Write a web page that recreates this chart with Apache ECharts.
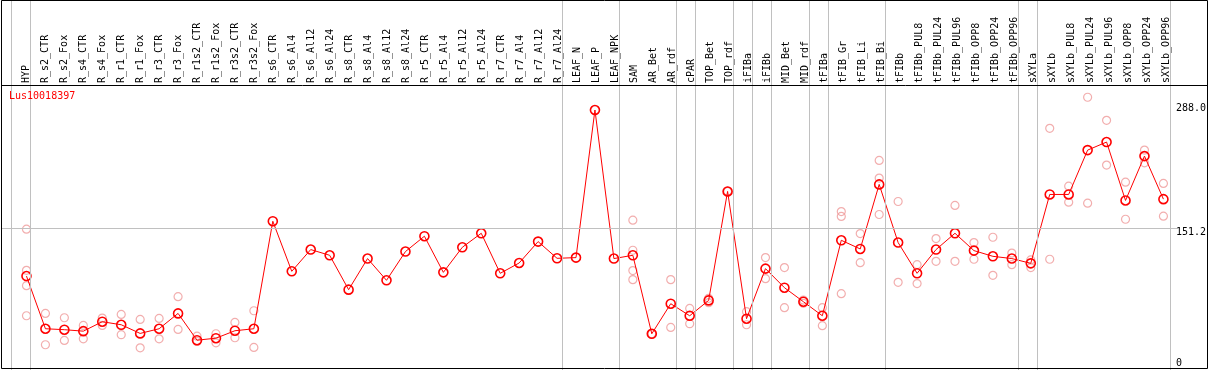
<!DOCTYPE html>
<html><head><meta charset="utf-8">
<script src="https://cdn.jsdelivr.net/npm/echarts@6/dist/echarts.min.js"></script>
<style>html,body{margin:0;padding:0;background:#fff}#c{width:1209px;height:370px}</style>
</head><body><div id="c"></div>
<script>
const geneName = 'Lus10018397';
const categories = ['HYP','R_s2_CTR','R_s2_Fox','R_s4_CTR','R_s4_Fox','R_r1_CTR','R_r1_Fox','R_r3_CTR','R_r3_Fox','R_r1s2_CTR','R_r1s2_Fox','R_r3s2_CTR','R_r3s2_Fox',
'R_s6_CTR','R_s6_Al4','R_s6_Al12','R_s6_Al24','R_s8_CTR','R_s8_Al4','R_s8_Al12','R_s8_Al24','R_r5_CTR','R_r5_Al4','R_r5_Al12','R_r5_Al24','R_r7_CTR','R_r7_Al4','R_r7_Al12','R_r7_Al24',
'LEAF_N','LEAF_P','LEAF_NPK',
'SAM','AR_Bet','AR_rdf','cPAR','TOP_Bet','TOP_rdf','iFIBa','iFIBb','MID_Bet','MID_rdf','tFIBa','tFIB_Gr','tFIB_Li','tFIB_Bi',
'tFIBb','tFIBb_PUL8','tFIBb_PUL24','tFIBb_PUL96','tFIBb_OPP8','tFIBb_OPP24','tFIBb_OPP96',
'sXYLa','sXYLb','sXYLb_PUL8','sXYLb_PUL24','sXYLb_PUL96','sXYLb_OPP8','sXYLb_OPP24','sXYLb_OPP96'];
const means = [96.3,35.5,34.4,32.7,43.6,40.1,30.1,35.5,53.2,22.3,24.6,33.2,35.5,
159.6,101.8,126.9,120.3,80.6,116.5,91.4,124.6,142.3,100.6,129.5,145.7,99.5,111.4,136.1,116.8,
117.6,288.0,116.5,
120.3,29.7,64.4,50.5,68.2,194.0,47.1,104.9,82.9,66.7,50.5,137.6,127.6,202.1,
135.0,99.5,126.9,145.7,125.7,119.1,116.5,
111.0,190.5,190.5,241.7,251.0,183.6,234.8,185.1];
const replicates = [
[150.4,102.9,85.2,50.5],[53.2,17.0],[48.2,22.0],[39.3,23.9],[47.8,39.3],[52.0,28.6],[46.3,13.5],[47.4,23.9],[72.5,34.7],[26.9,20.8],[29.7,19.3],[42.8,25.1],[56.3,13.9],
[],[],[],[],[],[],[],[],[],[],[],[],[],[],[],[],
[],[],[],
[160.8,126.1,102.6,92.2],[29.7,29.7],[92.2,37.0],[59.0,41.3],[70.6,65.6],[194.0,194.0],[55.2,40.1],[117.6,93.3],[106.1,59.8],[64.8,68.6],[59.8,39.0],[170.8,165.1,76.0],[145.4,111.8],[229.8,209.4,167.4],
[182.4,89.1],[109.5,87.6],[139.6,113.3],[177.8,113.3],[135.0,115.7],[141.1,97.2],[122.9,109.5],
[114.9,106.1],[266.8,115.7],[200.1,181.6],[302.7,180.4],[276.1,224.4],[204.7,161.9],[241.7,227.0],[203.2,165.4]];
const groupEnds = [-1,0,28,31,34,35,37,38,39,41,42,45,52,53,60];
const yTickValues = [0,151.2,288];
const yTickLabels = ['0','151.2','288.0'];
const medianLine = 151.2;

// ---- layout ----
const FONT = 'DejaVu Sans Mono';
const W = 1209, H = 370;
const BAND = 19, PLOT_LEFT = 17, N = categories.length, PLOT_W = BAND * N;
const HEADER_Y = 85;
const PLOT_TOP = 110, PLOT_BOTTOM = 359.5;
const yMin = 0, yMax = 288;
const pxPerUnit = (PLOT_BOTTOM - PLOT_TOP) / (yMax - yMin);
const idxAtPx = px => (px - PLOT_LEFT) / BAND - 0.5;
const valAtPy = py => (PLOT_BOTTOM - py) / pxPerUnit;
const SEP_OFFSET = 4 / BAND;

const repData = [];
replicates.forEach((arr, i) => arr.forEach(v => repData.push([i, v])));

const chart = echarts.init(document.getElementById('c'));
chart.setOption({
  animation: false,
  backgroundColor: '#fff',
  title: {text: geneName, left: 9, top: 91, padding: 0,
    textStyle: {fontFamily: FONT, fontSize: 10, fontWeight: 'normal', color: '#ff0000'}},
  grid: [
    {left: PLOT_LEFT, top: 0, width: PLOT_W, height: HEADER_Y},
    {left: PLOT_LEFT, top: PLOT_TOP, width: PLOT_W, height: PLOT_BOTTOM - PLOT_TOP},
    {left: 0, top: 0, width: W, height: H}
  ],
  xAxis: [
    {type: 'category', gridIndex: 0, data: categories, position: 'bottom',
      axisLine: {show: false}, axisTick: {show: false}, splitLine: {show: false},
      axisLabel: {inside: true, rotate: 90, margin: 2, interval: 0, fontFamily: FONT, fontSize: 10, color: '#000'}},
    {type: 'category', gridIndex: 1, data: categories, show: false},
    {type: 'value', gridIndex: 2, min: idxAtPx(0), max: idxAtPx(W), show: false}
  ],
  yAxis: [
    {type: 'value', gridIndex: 0, show: false},
    {type: 'value', gridIndex: 1, min: yMin, max: yMax, position: 'right',
      axisLine: {show: false}, axisTick: {show: false}, splitLine: {show: false},
      axisLabel: {customValues: yTickValues, margin: 3, showMinLabel: true, showMaxLabel: true,
        formatter: v => {
          const k = yTickValues.findIndex(t => Math.abs(t - v) < 1e-6);
          const s = k >= 0 ? yTickLabels[k] : String(v);
          return v >= yMax ? '{hi|' + s + '}' : '{lo|' + s + '}';
        },
        rich: {
          lo: {padding: [7, 0, 0, 0], fontFamily: FONT, fontSize: 10, color: '#000'},
          hi: {padding: [0, 0, 4, 0], fontFamily: FONT, fontSize: 10, color: '#000'}
        }}},
    {type: 'value', gridIndex: 2, min: valAtPy(H), max: valAtPy(0), show: false}
  ],
  series: [
    {type: 'line', xAxisIndex: 2, yAxisIndex: 2, data: [], silent: true, z: 1,
      markLine: {silent: true, symbol: ['none', 'none'], animation: false,
        label: {show: false},
        lineStyle: {color: '#c0c0c0', width: 1, type: 'solid'},
        emphasis: {disabled: true},
        data: groupEnds.map(i => ({xAxis: i + SEP_OFFSET})).concat([
          [{coord: [idxAtPx(1), medianLine]}, {coord: [idxAtPx(1177), medianLine]}]
        ])}},
    {type: 'scatter', xAxisIndex: 1, yAxisIndex: 1, data: repData, clip: false, z: 3,
      symbol: 'circle', symbolSize: 8,
      itemStyle: {color: 'rgba(0,0,0,0)', borderColor: '#ef9a9a', borderWidth: 1.2}},
    {type: 'line', xAxisIndex: 1, yAxisIndex: 1, data: means, clip: false, z: 4,
      symbol: 'circle', symbolSize: 9, showSymbol: true, showAllSymbol: true,
      itemStyle: {color: 'rgba(0,0,0,0)', borderColor: '#ff0000', borderWidth: 1.6},
      lineStyle: {color: '#ff0000', width: 1}}
  ],
  graphic: [
    {type: 'rect', silent: true, z: 100, shape: {x: 1.5, y: 0.5, width: 1206, height: 368},
      style: {fill: null, stroke: '#000', lineWidth: 1}},
    {type: 'line', silent: true, z: 100, shape: {x1: 1, y1: HEADER_Y + 0.5, x2: 1207, y2: HEADER_Y + 0.5},
      style: {stroke: '#000', lineWidth: 1}}
  ]
});
</script></body></html>
